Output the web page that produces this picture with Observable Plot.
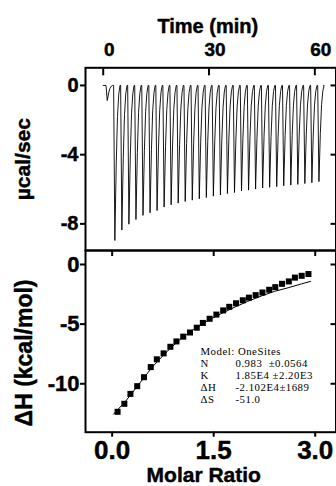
<!DOCTYPE html>
<html><head><meta charset="utf-8">
<script src="https://cdn.jsdelivr.net/npm/d3@7"></script>
<script src="https://cdn.jsdelivr.net/npm/@observablehq/plot@0.6"></script>
<style>
html,body{margin:0;padding:0;background:#fff;}
#chart{position:relative;width:336px;height:486px;overflow:hidden;background:#fff;}
#chart svg{position:absolute;left:0;overflow:visible;}
#chart text{white-space:pre;stroke:#000;stroke-width:0.45px;}
#chart g[font-family*="Serif"] text{stroke:none;letter-spacing:0.5px;}
</style></head><body><div id="chart"></div>
<script>
// ---- Raw thermogram (top panel) ----
const peakTimes = [1.15, 3.30, 5.29, 7.29, 9.28, 11.28, 13.28, 15.27, 17.27, 19.26, 21.26, 23.25, 25.25, 27.24, 29.24, 31.23, 33.23, 35.22, 37.22, 39.21, 41.21, 43.20, 45.20, 47.19, 49.19, 51.18, 53.18, 55.17, 57.17, 59.16, 61.16];
const peakHeights = [-0.87, -8.96, -8.36, -8.02, -7.75, -7.51, -7.36, -7.23, -7.03, -6.90, -6.80, -6.71, -6.63, -6.55, -6.48, -6.40, -6.33, -6.25, -6.19, -6.10, -6.05, -5.99, -5.93, -5.89, -5.85, -5.80, -5.76, -5.72, -5.67, -5.62, -5.56];
const baselineStart = 0;
const baselineEnd = 62.5;
// shape of one injection peak: [minutes relative to tip, fraction of peak height]
const peakProfile = [[-0.35, 0], [0, 1], [0.4, 0.5], [0.75, 0.2], [1.1, 0.06], [1.45, 0]];

// ---- Integrated heats (bottom panel) ----
const molarRatio = [0.08, 0.18, 0.27, 0.37, 0.47, 0.57, 0.66, 0.76, 0.86, 0.95, 1.05, 1.15, 1.25, 1.34, 1.44, 1.54, 1.64, 1.73, 1.83, 1.93, 2.02, 2.12, 2.22, 2.32, 2.41, 2.51, 2.61, 2.70, 2.80, 2.90];
const enthalpy = [-12.35, -11.68, -10.85, -10.2, -9.45, -8.6, -7.95, -7.45, -6.9, -6.45, -6.05, -5.7, -5.3, -4.9, -4.55, -4.2, -3.85, -3.55, -3.25, -3.0, -2.78, -2.57, -2.35, -2.12, -1.9, -1.62, -1.42, -1.1, -0.95, -0.8];
const fitRatio = [0.02, 0.2, 0.4, 0.6, 0.8, 1.0, 1.2, 1.4, 1.6, 1.8, 2.0, 2.2, 2.4, 2.6, 2.8, 2.93];
const fitEnthalpy = [-12.55, -11.45, -10.0, -8.55, -7.35, -6.3, -5.45, -4.75, -4.15, -3.6, -3.1, -2.65, -2.25, -1.95, -1.62, -1.42];

// ---- Ticks and text ----
const timeTicks = [0, 30, 60];
const powerTicks = [0, -4, -8];
const ratioTicks = [0, 1.5, 3.0];
const enthalpyTicks = [0, -5, -10];
const fitModel = "Model: OneSites";
const fitLabels = ["N", "K", "ΔH", "ΔS"];
const fitValues = ["0.983  ±0.0564", "1.85E4 ±2.20E3", "-2.102E4±1689", "-51.0"];

const FONT = "'Liberation Sans', Arial, Helvetica, sans-serif";
const SERIF = "'Liberation Serif', 'Times New Roman', serif";

// thermogram line points
const thermogram = [{t: baselineStart, p: 0}];
peakTimes.forEach((t, i) => {
  peakProfile.forEach(([o, f]) => thermogram.push({t: t + o, p: peakHeights[i] * f}));
});
thermogram.push({t: baselineEnd, p: 0});

const points = molarRatio.map((x, i) => ({x, y: enthalpy[i]}));
const fit = fitRatio.map((x, i) => ({x, y: fitEnthalpy[i]}));

const baseStyle = {fontFamily: FONT, fontWeight: "bold", color: "black", background: "transparent", overflow: "visible"};
const annot = {frameAnchor: "top-left", textAnchor: "start", lineAnchor: "top", lineHeight: 1.1, fontSize: 10.8, fontFamily: SERIF, fontWeight: "normal"};

const topPlot = Plot.plot({
  width: 336, height: 252,
  marginTop: 67.3, marginBottom: 2, marginLeft: 85, marginRight: 0.5,
  x: {domain: [-5.02, 66]},
  y: {domain: [-9.54, 1.02]},
  style: baseStyle,
  marks: [
    Plot.line(thermogram, {x: "t", y: "p", stroke: "#000", strokeWidth: 0.9}),
    Plot.axisX({anchor: "top", ticks: timeTicks, tickSize: 7, dy: 7, strokeWidth: 2, tickFormat: () => "", label: null}),
    Plot.axisX({anchor: "top", ticks: timeTicks, tickSize: 0, tickPadding: 12.3, dx: 6, fontSize: 19, fontWeight: "bold", tickFormat: d => String(d), label: null}),
    Plot.axisY({anchor: "left", ticks: powerTicks, tickSize: 5, tickPadding: 2, strokeWidth: 2, fontSize: 20, fontWeight: "bold", tickFormat: d => String(d), label: null}),
    Plot.axisY({anchor: "right", ticks: powerTicks, tickSize: 6, dx: -6, strokeWidth: 2, tickFormat: () => "", label: null}),
    Plot.frame({stroke: "black", strokeWidth: 2}),
    Plot.text(["Time (min)"], {text: d => d, frameAnchor: "top", textAnchor: "middle", dx: -3, dy: -35.3, lineAnchor: "bottom", fontSize: 20, fontWeight: "bold"}),
    Plot.text(["µcal/sec"], {text: d => d, frameAnchor: "left", textAnchor: "middle", rotate: -90, dx: -55.5, lineAnchor: "bottom", fontSize: 21, fontWeight: "bold"})
  ]
});

const bottomPlot = Plot.plot({
  width: 336, height: 238,
  marginTop: 2, marginBottom: 54.3, marginLeft: 85, marginRight: 0.5,
  x: {domain: [-0.394, 3.307]},
  y: {domain: [-14.06, 1.173]},
  style: baseStyle,
  marks: [
    Plot.line(fit, {x: "x", y: "y", stroke: "black", strokeWidth: 1}),
    Plot.dot(points, {x: "x", y: "y", symbol: "square", r: 3.4, fill: "black", stroke: "none"}),
    Plot.axisX({anchor: "bottom", ticks: ratioTicks, tickSize: 5, tickPadding: 3, strokeWidth: 2, fontSize: 26, fontWeight: "bold", tickFormat: d => d.toFixed(1), label: null}),
    Plot.axisX({anchor: "top", ticks: ratioTicks, tickSize: 5, dy: 5, strokeWidth: 2, tickFormat: () => "", label: null}),
    Plot.axisY({anchor: "left", ticks: enthalpyTicks, tickSize: 5, tickPadding: 1, strokeWidth: 2, fontSize: 22, fontWeight: "bold", tickFormat: d => String(d), label: null}),
    Plot.axisY({anchor: "right", ticks: enthalpyTicks, tickSize: 6, dx: -6, strokeWidth: 2, tickFormat: () => "", label: null}),
    Plot.frame({stroke: "black", strokeWidth: 2}),
    Plot.text([fitModel], {...annot, text: d => d, dx: 115, dy: 96.3}),
    Plot.text([fitLabels.join("\n")], {...annot, text: d => d, dx: 115, dy: 108.2}),
    Plot.text([fitValues.join("\n")], {...annot, text: d => d, dx: 150, dy: 108.2}),
    Plot.text(["Molar Ratio"], {text: d => d, frameAnchor: "bottom", textAnchor: "middle", dx: -7, dy: 49.8, lineAnchor: "bottom", fontSize: 21, fontWeight: "bold"}),
    Plot.text(["ΔH (kcal/mol)"], {text: d => d, frameAnchor: "left", textAnchor: "middle", rotate: -90, dx: -54, dy: 11.6, lineAnchor: "bottom", fontSize: 23, fontWeight: "bold"})
  ]
});

const chart = document.getElementById("chart");
topPlot.style.top = "0px";
bottomPlot.style.top = "248px";
chart.appendChild(topPlot);
chart.appendChild(bottomPlot);
</script>
</body></html>
